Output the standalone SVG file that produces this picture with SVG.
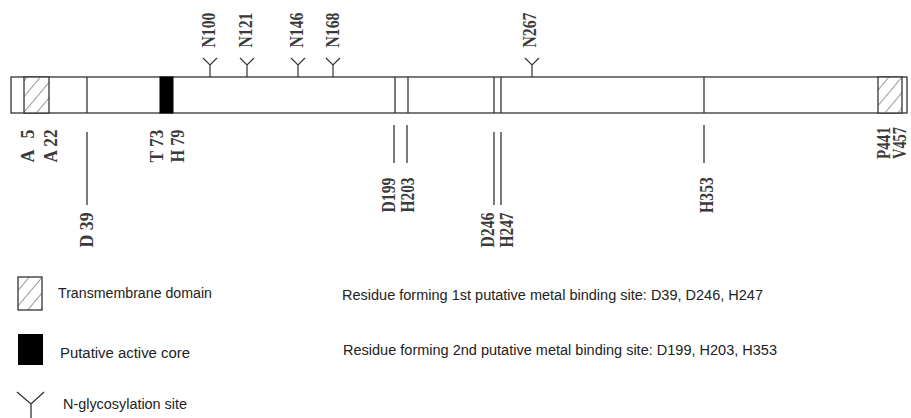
<svg xmlns="http://www.w3.org/2000/svg" width="911" height="418" viewBox="0 0 911 418">
<defs>
<pattern id="hatch" patternUnits="userSpaceOnUse" width="10" height="10" patternTransform="rotate(40)">
<rect width="10" height="10" fill="#fff"/>
<line x1="0" y1="0" x2="0" y2="10" stroke="#333" stroke-width="1"/>
</pattern>
<path id="glyco" d="M-7,-19 L0,-12 L7,-19 M0,-12 L0,0" fill="none" stroke="#333" stroke-width="1.2"/>
</defs>
<style>
.ln{stroke:#333;stroke-width:1.3;fill:none}
.bx{stroke:#333;stroke-width:1.3;fill:#fff}
.ht{stroke:#333;stroke-width:1.3;fill:url(#hatch)}
.lab{font-family:"Liberation Serif","Times New Roman",serif;font-size:18px;font-weight:bold;fill:#3a3a3a;text-anchor:middle}
.leg{font-family:"Liberation Sans",Arial,sans-serif;font-size:14px;fill:#222}
</style>
<rect width="911" height="418" fill="#fff"/>
<g id="protein">
<rect x="11" y="77" width="896" height="36" class="bx"/>
<rect x="24" y="77" width="25" height="36" class="ht"/>
<rect x="878" y="77" width="24" height="36" class="ht"/>
<rect x="160" y="77" width="13" height="36" fill="#000" stroke="#000"/>
<line class="ln" x1="87" y1="77" x2="87" y2="113"/>
<line class="ln" x1="395" y1="77" x2="395" y2="113"/>
<line class="ln" x1="408" y1="77" x2="408" y2="113"/>
<line class="ln" x1="494" y1="77" x2="494" y2="113"/>
<line class="ln" x1="501" y1="77" x2="501" y2="113"/>
<line class="ln" x1="704" y1="77" x2="704" y2="113"/>
</g>
<g id="glycosylation">
<use href="#glyco" x="210" y="77"/>
<use href="#glyco" x="247" y="77"/>
<use href="#glyco" x="298" y="77"/>
<use href="#glyco" x="333" y="77"/>
<use href="#glyco" x="532" y="77"/>
<text class="lab" transform="translate(215,30) rotate(-90)" textLength="35" lengthAdjust="spacingAndGlyphs">N100</text>
<text class="lab" transform="translate(252,30) rotate(-90)" textLength="35" lengthAdjust="spacingAndGlyphs">N121</text>
<text class="lab" transform="translate(303,30) rotate(-90)" textLength="35" lengthAdjust="spacingAndGlyphs">N146</text>
<text class="lab" transform="translate(339,30) rotate(-90)" textLength="35" lengthAdjust="spacingAndGlyphs">N168</text>
<text class="lab" transform="translate(536,30) rotate(-90)" textLength="35" lengthAdjust="spacingAndGlyphs">N267</text>
</g>
<g id="connectors">
<line class="ln" x1="87" y1="132" x2="87" y2="205"/>
<line class="ln" x1="394" y1="125" x2="394" y2="163"/>
<line class="ln" x1="407" y1="125" x2="407" y2="163"/>
<line class="ln" x1="494" y1="132" x2="494" y2="205"/>
<line class="ln" x1="501" y1="132" x2="501" y2="205"/>
<line class="ln" x1="704" y1="125" x2="704" y2="163"/>
</g>
<g id="labels">
<text class="lab" transform="translate(34,146) rotate(-90)" textLength="33" lengthAdjust="spacing">A 5</text>
<text class="lab" transform="translate(57,146) rotate(-90)" textLength="33" lengthAdjust="spacingAndGlyphs">A 22</text>
<text class="lab" transform="translate(163,146) rotate(-90)" textLength="33" lengthAdjust="spacingAndGlyphs">T 73</text>
<text class="lab" transform="translate(184,146) rotate(-90)" textLength="33" lengthAdjust="spacingAndGlyphs">H 79</text>
<text class="lab" transform="translate(93,230) rotate(-90)" textLength="35" lengthAdjust="spacingAndGlyphs">D 39</text>
<text class="lab" transform="translate(395,195) rotate(-90)" textLength="35" lengthAdjust="spacingAndGlyphs">D199</text>
<text class="lab" transform="translate(414,195) rotate(-90)" textLength="35" lengthAdjust="spacingAndGlyphs">H203</text>
<text class="lab" transform="translate(494,230) rotate(-90)" textLength="35" lengthAdjust="spacingAndGlyphs">D246</text>
<text class="lab" transform="translate(513,230) rotate(-90)" textLength="35" lengthAdjust="spacingAndGlyphs">H247</text>
<text class="lab" transform="translate(713,195) rotate(-90)" textLength="36" lengthAdjust="spacingAndGlyphs">H353</text>
<text class="lab" transform="translate(890,143) rotate(-90)" textLength="32" lengthAdjust="spacingAndGlyphs">P441</text>
<text class="lab" transform="translate(906,143) rotate(-90)" textLength="32" lengthAdjust="spacingAndGlyphs">V457</text>
</g>
<g id="legend">
<rect x="18" y="277" width="24" height="33" class="ht"/>
<rect x="18" y="334" width="25" height="31" fill="#000"/>
<path class="ln" d="M17,392 L31,404 L44,392 M31,404 L31,418"/>
<text class="leg" x="58" y="298" textLength="154" lengthAdjust="spacingAndGlyphs">Transmembrane domain</text>
<text class="leg" x="60" y="358" textLength="130" lengthAdjust="spacingAndGlyphs">Putative active core</text>
<text class="leg" x="63" y="409" textLength="124" lengthAdjust="spacingAndGlyphs">N-glycosylation site</text>
<text class="leg" x="342" y="300" textLength="421" lengthAdjust="spacingAndGlyphs">Residue forming 1st putative metal binding site: D39, D246, H247</text>
<text class="leg" x="343" y="355" textLength="434" lengthAdjust="spacingAndGlyphs">Residue forming 2nd putative metal binding site: D199, H203, H353</text>
</g>
</svg>
